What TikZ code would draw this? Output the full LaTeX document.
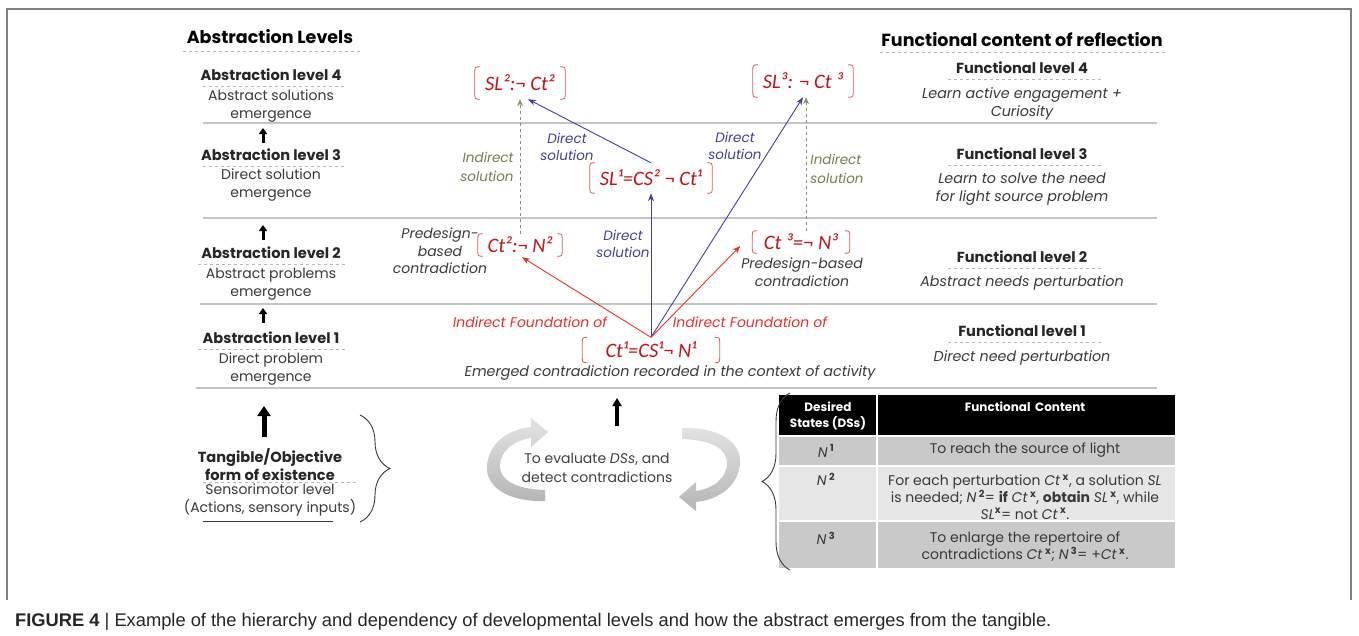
\documentclass[tikz,border=0pt]{standalone}
\usepackage{fontspec}
\setmainfont{Poppins}
\newfontfamily\formfont{Carlito}
\newfontfamily\capfont{Liberation Sans}
\usetikzlibrary{arrows.meta,decorations.pathreplacing}

\definecolor{txt}{HTML}{3A3A3A}
\definecolor{rulegray}{HTML}{C4C4C4}
\definecolor{dashgray}{HTML}{B8B8B8}
\definecolor{formred}{HTML}{C2141C}
\definecolor{brkred}{HTML}{D06060}
\definecolor{arrred}{HTML}{E8302A}
\definecolor{solblue}{HTML}{40409E}
\definecolor{indgreen}{HTML}{6F8052}
\definecolor{rowdark}{HTML}{C9C9C9}
\definecolor{rowlight}{HTML}{E6E6E6}
\definecolor{framegray}{HTML}{808080}

% rounded red brackets around a formula node
\newcommand\bracketpair[1]{%
  \draw[brkline] ([xshift=5pt]#1.north west) .. controls (#1.north west) .. ([yshift=-7pt]#1.north west)
    -- ([yshift=7pt]#1.south west) .. controls (#1.south west) .. ([xshift=5pt]#1.south west);
  \draw[brkline] ([xshift=-5pt]#1.north east) .. controls (#1.north east) .. ([yshift=-7pt]#1.north east)
    -- ([yshift=7pt]#1.south east) .. controls (#1.south east) .. ([xshift=-5pt]#1.south east);}

% one half of the evaluation cycle
\newcommand\cyclehalf{%
  (545,501) .. controls (505,502) and (485,485) .. (487,465)
  .. controls (489,445) and (505,430) .. (531,427) -- (531,418) -- (548,432) -- (531,447) -- (531,438)
  .. controls (512,441) and (500,452) .. (500,466)
  .. controls (500,480) and (515,489) .. (545,490) -- cycle}

\tikzset{
  heading/.style={font=\fontsize{17.5}{20}\selectfont\bfseries, text=black},
  lvltitle/.style={font=\fontsize{14.6}{17}\selectfont\bfseries, text=black!85},
  body/.style={font=\fontsize{14}{18.5}\selectfont, text=txt, align=center, inner sep=0},
  ibody/.style={font=\fontsize{14.3}{17.5}\selectfont\itshape, text=txt, align=center, inner sep=0},
  uline/.style={draw=dashgray, dashed, line width=0.8},
  hrule/.style={draw=rulegray, line width=1.1},
  formula/.style={font=\formfont\itshape\fontsize{20.5}{22}\selectfont, text=formred, inner sep=0},
  brkline/.style={draw=brkred, line width=0.8},
  redarr/.style={draw=arrred, line width=0.9, -{Stealth[length=8,width=6]}},
  bluearr/.style={draw=solblue, line width=0.9, -{Stealth[length=8,width=6]}},
  greenarr/.style={draw=indgreen!85, line width=0.9, dashed, -{Stealth[length=7,width=6]}},
  redlbl/.style={font=\fontsize{14}{17}\selectfont\itshape, text=arrred, inner sep=0},
  bluelbl/.style={font=\fontsize{13.5}{17.5}\selectfont\itshape, text=solblue, align=center, inner sep=0},
  greenlbl/.style={font=\fontsize{13.5}{19}\selectfont\itshape, text=indgreen, align=center, inner sep=0},
  smallup/.style={line width=3, -{Triangle[length=6,width=8]}},
  bigup/.style={line width=5, -{Triangle[length=10,width=13]}},
  cellhead/.style={font=\fontsize{12}{15.5}\selectfont\bfseries, text=white, align=center, inner sep=0},
  cell/.style={font=\fontsize{14}{16.8}\selectfont, text=txt, align=center, inner sep=0},
  cyclefill/.style={top color=gray!22, bottom color=gray!58, draw=none},
}

\begin{document}
\begin{tikzpicture}[x=1pt,y=-1pt]
\useasboundingbox (0,0) rectangle (1359,635);
\fill[white] (0,0) rectangle (1359,635);

% outer frame
\draw[framegray, line width=1.3] (7,600) -- (7,9) -- (1351,9) -- (1351,600);

% ---------- horizontal level rules ----------
\draw[hrule] (203,123) -- (1157,123);
\draw[hrule] (203,218) -- (1157,218);
\draw[hrule] (200,304) -- (1157,304);
\draw[hrule] (196,388) -- (1157,388);

% ---------- abstraction levels (left column) ----------
\node[heading] (abshead) at (270,37) {Abstraction Levels};
\draw[uline] (183,51) -- (362,51);

\node[lvltitle] (a4) at (271,75) {Abstraction level 4};
\draw[uline] (203,86) -- (345,86);
\node[body] (a4t) at (271,106) {Abstract solutions\\emergence};

\node[lvltitle] (a3) at (271,155) {Abstraction level 3};
\draw[uline] (203,166) -- (345,166);
\node[body] (a3t) at (271,185) {Direct solution\\emergence};

\node[lvltitle] (a2) at (271,253) {Abstraction level 2};
\draw[uline] (198,264) -- (345,264);
\node[body] (a2t) at (271,284) {Abstract problems\\emergence};

\node[lvltitle] (a1) at (271,338) {Abstraction level 1};
\draw[uline] (198,349) -- (347,349);
\node[body] (a1t) at (271,369) {Direct problem\\emergence};

\coordinate (u3a) at (263,143); \coordinate (u3b) at (263,128);
\coordinate (u2a) at (263,240); \coordinate (u2b) at (263,225);
\coordinate (u1a) at (263,323); \coordinate (u1b) at (263,308);
\draw[smallup] (u3a) -- (u3b);
\draw[smallup] (u2a) -- (u2b);
\draw[smallup] (u1a) -- (u1b);

\coordinate (t0a) at (264,437); \coordinate (t0b) at (264,406);
\draw[bigup] (t0a) -- (t0b);

\node[lvltitle, align=center, font=\fontsize{14.6}{18}\selectfont\bfseries] (tang) at (270,465) {Tangible/Objective\\form of existence};
\draw[uline] (203,482) -- (357,482);
\node[body] (tangt) at (270,500) {Sensorimotor level\\(Actions, sensory inputs)};
\draw[draw=txt, line width=0.8] (203,521) -- (333,521);
\draw[txt, line width=0.9, decorate, decoration={brace, amplitude=30}] (360,415) -- (360,522);

% ---------- contradiction / solution network ----------
\node[formula, minimum width=90, minimum height=32] (sl2) at (520,83) {SL²:¬ Ct²};
\node[formula, minimum width=100, minimum height=32] (sl3) at (803,81) {SL³: ¬ Ct ³};
\node[formula, minimum width=122, minimum height=30] (sl1) at (651,178) {SL¹=CS² ¬ Ct¹};
\node[formula, minimum width=84, minimum height=22] (ct2) at (520,245) {Ct²:¬ N²};
\node[formula, minimum width=97, minimum height=22] (ct3) at (801,242) {Ct ³=¬ N³};
\node[formula, minimum width=137, minimum height=25] (ct1) at (651,350) {Ct¹=CS¹¬ N¹};
\bracketpair{sl2}
\bracketpair{sl3}
\bracketpair{sl1}
\bracketpair{ct2}
\bracketpair{ct3}
\bracketpair{ct1}

\draw[greenarr] (ct2.north) -- (sl2.south);
\draw[greenarr] ([xshift=5pt]ct3.north) -- ([xshift=3pt]sl3.south);
\draw[bluearr] (sl1.north) -- ([xshift=8pt]sl2.south);
\draw[bluearr] (ct1.north) -- (sl1.south);
\draw[bluearr] (ct1.north) -- (sl3.south);
\draw[redarr] (ct1.north) -- ([xshift=2pt,yshift=-1pt]ct2.south);
\draw[redarr] (ct1.north) -- ([xshift=-12pt,yshift=-4pt]ct3.west);

\node[greenlbl, align=right] (indsolL) at (487,167) {Indirect\\solution};
\node[greenlbl, align=left] (indsolR) at (837,169) {Indirect\\solution};
\node[bluelbl] (dirsol1) at (567,147) {Direct\\solution};
\node[bluelbl] (dirsol2) at (623,244) {Direct\\solution};
\node[bluelbl] (dirsol3) at (735,146) {Direct\\solution};
\node[ibody, font=\fontsize{14}{17.5}\selectfont\itshape] (preL) at (440,251) {Predesign-\\based\\contradiction};
\node[ibody, font=\fontsize{14}{17.5}\selectfont\itshape] (preR) at (802,272) {Predesign-based\\contradiction};
\node[redlbl] (foundL) at (530,322) {Indirect Foundation of};
\node[redlbl] (foundR) at (750,322) {Indirect Foundation of};
\node[ibody] (emerged) at (670,373) {Emerged contradiction recorded in the context of activity};

% ---------- functional content (right column) ----------
\node[heading] (funchead) at (1022,40) {Functional content of reflection};
\draw[uline] (880,52) -- (1165,52);

\node[lvltitle] (f4) at (1022,68) {Functional level 4};
\draw[uline] (948,79) -- (1102,79);
\node[ibody] (f4t) at (1022,104) {Learn active engagement +\\Curiosity};

\node[lvltitle] (f3) at (1022,154) {Functional level 3};
\draw[uline] (948,165) -- (1102,165);
\node[ibody] (f3t) at (1022,189) {Learn to solve the need\\for light source problem};

\node[lvltitle] (f2) at (1022,257) {Functional level 2};
\draw[uline] (948,268) -- (1102,268);
\node[ibody] (f2t) at (1022,283) {Abstract needs perturbation};

\node[lvltitle] (f1) at (1022,331) {Functional level 1};
\draw[uline] (948,342) -- (1102,342);
\node[ibody] (f1t) at (1022,358) {Direct need perturbation};

% ---------- evaluation cycle ----------
\coordinate (mida) at (617,426); \coordinate (midb) at (617,398);
\draw[line width=3.5, -{Triangle[length=8,width=9]}] (mida) -- (midb);
\shade[cyclefill] \cyclehalf;
\begin{scope}[rotate around={180:(613.5,464.5)}]
  \shade[cyclefill] \cyclehalf;
\end{scope}
\node[body, text=black!75] (evaltxt) at (597,468) {To evaluate \textit{DSs}, and\\detect contradictions};

% ---------- desired states table ----------
\fill[black] (779,395) rectangle (1175,436);
\fill[rowdark] (779,436) rectangle (1175,466);
\fill[rowlight] (779,466) rectangle (1175,521);
\fill[rowdark] (779,521) rectangle (1175,568);
\draw[white, line width=1.6] (779,436) -- (1175,436);
\draw[white, line width=1.6] (779,466) -- (1175,466);
\draw[white, line width=1.6] (779,521) -- (1175,521);
\draw[white, line width=1.4] (877,395) -- (877,568);

\node[cellhead] (hds) at (828,416) {Desired\\States (DSs)};
\node[cellhead] (hfc) at (1025,407) {Functional\, Content};
\node[cell] (n1) at (826,451) {\textit{N}\,\textsuperscript{\bfseries 1}};
\node[cell] (c1) at (1025,450) {To reach the source of light};
\node[cell] (n2) at (826,479) {\textit{N}\,\textsuperscript{\bfseries 2}};
\node[cell] (c2) at (1025,497) {For each perturbation \textit{Ct}\,\textsuperscript{\bfseries x}, a solution \textit{SL}\\
  is needed; \textit{N}\,\textsuperscript{\bfseries 2}= \textbf{if} \textit{Ct}\,\textsuperscript{\bfseries x}, \textbf{obtain} \textit{SL}\,\textsuperscript{\bfseries x}, while\\
  \textit{SL}\textsuperscript{\bfseries x}= not \textit{Ct}\,\textsuperscript{\bfseries x}.};
\node[cell] (n3) at (826,538) {\textit{N}\,\textsuperscript{\bfseries 3}};
\node[cell] (c3) at (1025,547) {To enlarge the repertoire of\\
  contradictions \textit{Ct}\,\textsuperscript{\bfseries x}; \textit{N}\,\textsuperscript{\bfseries 3}= +\textit{Ct}\,\textsuperscript{\bfseries x}.};
\draw[txt, line width=0.9, decorate, decoration={brace, amplitude=28}] (790,570) -- (790,393);

% ---------- caption ----------
\node[anchor=base west, inner sep=0, font=\capfont\fontsize{18.3}{21}\selectfont, text=black!85] (caption) at (15,626)
  {\textbf{FIGURE 4} | Example of the hierarchy and dependency of developmental levels and how the abstract emerges from the tangible.};
\end{tikzpicture}
\end{document}
